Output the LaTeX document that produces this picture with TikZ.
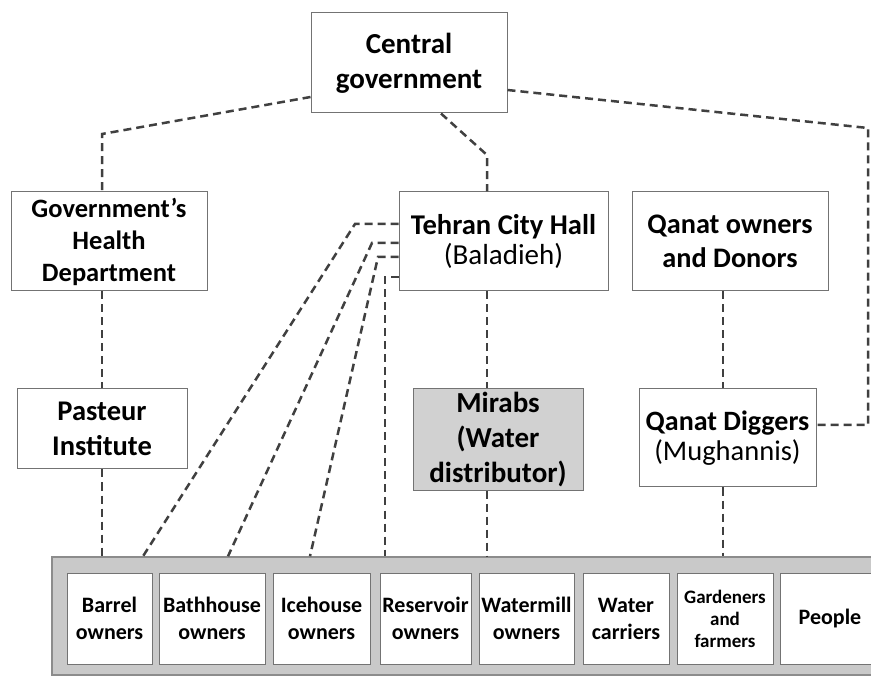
\documentclass[tikz,border=0pt]{standalone}
\usepackage{fontspec}
\setmainfont{Carlito}
\usetikzlibrary{positioning}
\tikzset{
  orgbox/.style={draw=black!55,fill=white,line width=1pt,align=center,inner sep=0pt,
    font=\fontsize{28.5}{34}\selectfont\bfseries},
  mirabbox/.style={orgbox,fill=black!18},
  memberbox/.style={draw=black!55,fill=white,line width=1pt,align=center,inner sep=0pt,
    minimum height=91pt,font=\fontsize{22}{27}\selectfont\bfseries},
  bandbox/.style={draw=black!45,fill=black!21,line width=1.5pt,inner sep=0pt},
  linkline/.style={draw=black!75,line width=2.5pt,dash pattern=on 8pt off 5pt}
}
\begin{document}
\begin{tikzpicture}[x=1pt,y=-1pt]
  \useasboundingbox (0,0) rectangle (871,676);
  % upper levels
  \node[orgbox,minimum width=196pt,minimum height=100pt,font=\fontsize{29}{35}\selectfont\bfseries]
    (central) at (409,63) {Central\\government};
  \node[orgbox,minimum width=196pt,minimum height=99pt,font=\fontsize{26.5}{32}\selectfont\bfseries]
    (health) at (109,241.5) {Government’s\\Health\\Department};
  \node[orgbox,minimum width=209pt,minimum height=99pt,font=\fontsize{28.6}{30}\selectfont\bfseries]
    (hall) at (503.5,241.5) {Tehran City Hall\\{\fontsize{29}{30}\selectfont\mdseries (Baladieh)}};
  \node[orgbox,minimum width=196pt,minimum height=99pt,font=\fontsize{28.3}{34}\selectfont\bfseries]
    (owners) at (730,241.5) {Qanat owners\\and Donors};
  \node[orgbox,minimum width=170pt,minimum height=80pt,font=\fontsize{28.5}{35}\selectfont\bfseries]
    (pasteur) at (102,429) {Pasteur\\Institute};
  \node[mirabbox,minimum width=170pt,minimum height=101pt,font=\fontsize{29}{35}\selectfont\bfseries]
    (mirabs) at (498,439.5) {Mirabs\\(Water\\distributor)};
  \node[orgbox,minimum width=177pt,minimum height=98pt,font=\fontsize{28}{30}\selectfont\bfseries]
    (diggers) at (727.5,438) {Qanat Diggers\\{\fontsize{28.5}{30}\selectfont\mdseries (Mughannis)}};
  % water users
  \node[bandbox,minimum width=830pt,minimum height=118pt] (band) at (467,616) {};
  \node[memberbox,minimum width=85pt] (barrel) at (109.5,618.5) {Barrel\\owners};
  \node[memberbox,minimum width=106pt] (bathhouse) at (212,618.5) {Bathhouse\\owners};
  \node[memberbox,minimum width=97pt] (icehouse) at (321.5,618.5) {Icehouse\\owners};
  \node[memberbox,minimum width=91pt] (reservoir) at (425.5,618.5) {Reservoir\\owners};
  \node[memberbox,minimum width=95pt] (watermill) at (526.5,618.5) {Watermill\\owners};
  \node[memberbox,minimum width=86pt] (carriers) at (626,618.5) {Water\\carriers};
  \node[memberbox,minimum width=96pt,font=\fontsize{19}{22}\selectfont\bfseries]
    (gardeners) at (725,618.5) {Gardeners\\and\\farmers};
  \node[memberbox,minimum width=100pt] (people) at (830,618.5) {People};
  % links
  \coordinate (leftbend) at (102,134);
  \coordinate (hallbend) at (487,155);
  \coordinate (rightbend) at (868,128);
  \coordinate (qanatline) at (723,0);
  \coordinate (diggerlink) at ([yshift=13pt]diggers.east);
  \draw[linkline] ([yshift=-34pt]central.west) -- (leftbend) -- (leftbend |- health.north);
  \draw[linkline] (pasteur.north |- health.south) -- (pasteur.north);
  \draw[linkline] (pasteur.south) -- (pasteur.south |- band.north);
  \draw[linkline] ([xshift=32pt]central.south) -- (hallbend) -- (hallbend |- hall.north);
  \draw[linkline] (hallbend |- hall.south) -- (hallbend |- mirabs.north);
  \draw[linkline] (hallbend |- mirabs.south) -- (hallbend |- band.north);
  \draw[linkline] ([yshift=-27pt]central.east) -- (rightbend) -- (rightbend |- diggerlink) -- (diggerlink);
  \draw[linkline] (qanatline |- owners.south) -- (qanatline |- diggers.north);
  \draw[linkline] (qanatline |- diggers.south) -- (qanatline |- band.north);
  \foreach \cy/\bx/\ex [count=\i] in {224/355/143, 243/372/228, 257/378/310, 277/385/385} {
    \coordinate (hallbend\i) at (\bx,\cy);
    \coordinate (userend\i) at (\ex,0);
    \draw[linkline] (hallbend\i -| hall.west) -- (hallbend\i) -- (userend\i |- band.north);
  }
\end{tikzpicture}
\end{document}
